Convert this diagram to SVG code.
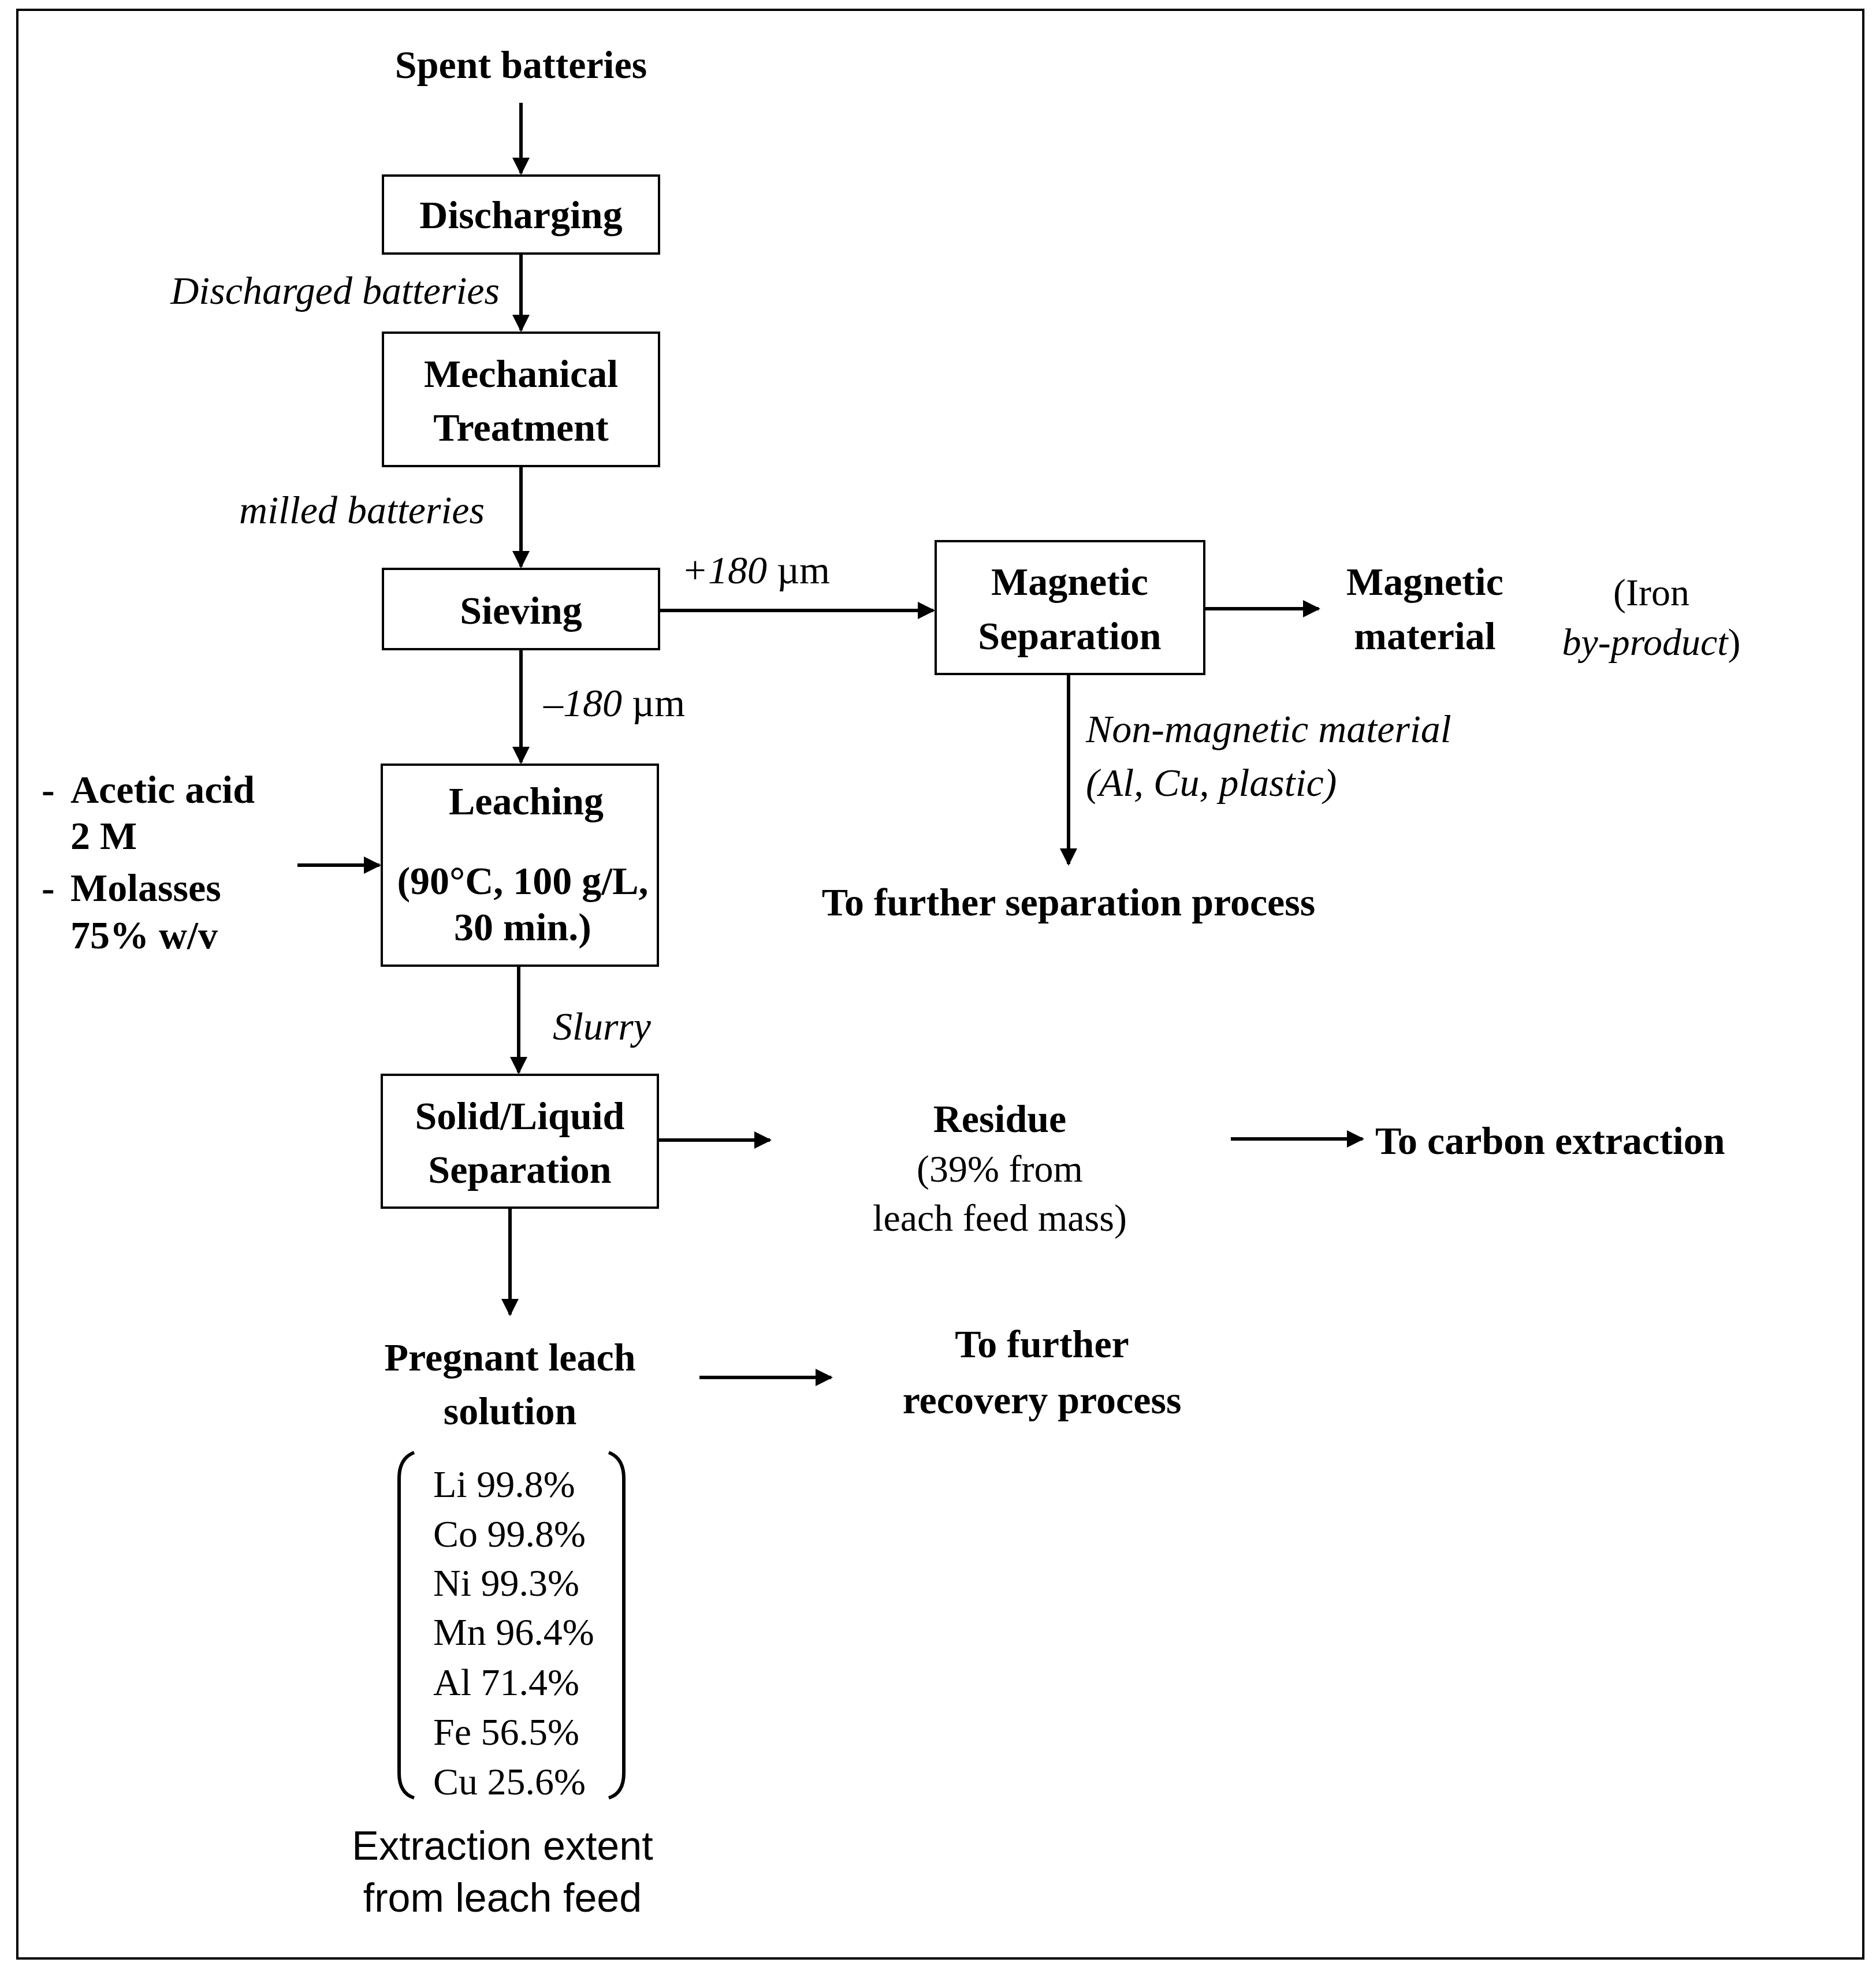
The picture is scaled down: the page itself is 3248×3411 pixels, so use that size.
<svg xmlns="http://www.w3.org/2000/svg" width="3248" height="3411" viewBox="0 0 3248 3411">
<defs>
<marker id="ah" viewBox="0 0 10 10" refX="9" refY="5" markerWidth="5" markerHeight="5" orient="auto" markerUnits="strokeWidth"><path d="M0,0 L10,5 L0,10 z" fill="#000"/></marker>
<style>
.b{font-family:"Liberation Serif",serif;font-weight:bold;font-size:68px;fill:#000}
.i{font-family:"Liberation Serif",serif;font-style:italic;font-size:68px;fill:#000}
.n{font-family:"Liberation Serif",serif;font-size:66px;fill:#000}
.s{font-family:"Liberation Sans",sans-serif;font-size:70px;fill:#000}
.box{fill:#fff;stroke:#000;stroke-width:4}
.c{text-anchor:middle}
.ln{stroke:#000;stroke-width:6;fill:none}
</style>
</defs>
<rect x="30" y="17" width="3196" height="3374" fill="#fff" stroke="#000" stroke-width="4"/>
<g id="connectors">
<line class="ln" x1="902" y1="178" x2="902" y2="300" marker-end="url(#ah)"/>
<line class="ln" x1="902" y1="439" x2="902" y2="572" marker-end="url(#ah)"/>
<line class="ln" x1="902" y1="807" x2="902" y2="981" marker-end="url(#ah)"/>
<line class="ln" x1="1141" y1="1057" x2="1616" y2="1057" marker-end="url(#ah)"/>
<line class="ln" x1="2085" y1="1054" x2="2283" y2="1054" marker-end="url(#ah)"/>
<line class="ln" x1="1850" y1="1167" x2="1850" y2="1496" marker-end="url(#ah)"/>
<line class="ln" x1="902" y1="1124" x2="902" y2="1320" marker-end="url(#ah)"/>
<line class="ln" x1="515" y1="1498" x2="657" y2="1498" marker-end="url(#ah)"/>
<line class="ln" x1="898" y1="1672" x2="898" y2="1857" marker-end="url(#ah)"/>
<line class="ln" x1="1139" y1="1974" x2="1333" y2="1974" marker-end="url(#ah)"/>
<line class="ln" x1="2131" y1="1972" x2="2359" y2="1972" marker-end="url(#ah)"/>
<line class="ln" x1="883" y1="2091" x2="883" y2="2276" marker-end="url(#ah)"/>
<line class="ln" x1="1211" y1="2385" x2="1439" y2="2385" marker-end="url(#ah)"/>
</g>
<g id="spent"><text class="b c" x="902" y="135">Spent batteries</text></g>
<g id="discharging"><rect class="box" x="663" y="304" width="478" height="135"/><text class="b c" x="902" y="395">Discharging</text></g>
<text class="i" x="865" y="526" text-anchor="end">Discharged batteries</text>
<g id="mechanical"><rect class="box" x="663" y="576" width="478" height="231"/><text class="b c" x="902" y="670">Mechanical</text><text class="b c" x="902" y="763">Treatment</text></g>
<text class="i" x="839" y="906" text-anchor="end">milled batteries</text>
<g id="sieving"><rect class="box" x="663" y="985" width="478" height="139"/><text class="b c" x="902" y="1080">Sieving</text></g>
<text class="i" x="1180" y="1010">+180 <tspan style="font-style:normal">µm</tspan></text>
<g id="magsep"><rect class="box" x="1620" y="937" width="465" height="230"/><text class="b c" x="1852" y="1030">Magnetic</text><text class="b c" x="1852" y="1124">Separation</text></g>
<g id="magmat"><text class="b c" x="2467" y="1030">Magnetic</text><text class="b c" x="2467" y="1124">material</text></g>
<g id="iron"><text class="n c" x="2859" y="1048">(Iron</text><text class="n c" x="2859" y="1134"><tspan font-style="italic">by-product</tspan>)</text></g>
<text class="i" x="1880" y="1285">Non-magnetic material</text>
<text class="i" x="1880" y="1378">(Al, Cu, plastic)</text>
<g id="further-sep"><text class="b c" x="1850" y="1585">To further separation process</text></g>
<text class="i" x="941" y="1240">–180 <tspan style="font-style:normal">µm</tspan></text>
<g id="reagents">
<text class="b" x="72" y="1390">-</text><text class="b" x="122" y="1390">Acetic acid</text>
<text class="b" x="122" y="1470">2 M</text>
<text class="b" x="72" y="1560">-</text><text class="b" x="122" y="1560">Molasses</text>
<text class="b" x="122" y="1642">75% w/v</text>
</g>
<g id="leaching"><rect class="box" x="661" y="1324" width="478" height="348"/><text class="b c" x="911" y="1410">Leaching</text><text class="b c" x="905" y="1548">(90°C, 100 g/L,</text><text class="b c" x="905" y="1628">30 min.)</text></g>
<text class="i" x="957" y="1800">Slurry</text>
<g id="slsep"><rect class="box" x="661" y="1861" width="478" height="230"/><text class="b c" x="900" y="1955">Solid/Liquid</text><text class="b c" x="900" y="2048">Separation</text></g>
<g id="residue"><text class="b c" x="1731" y="1960">Residue</text><text class="n c" x="1731" y="2046">(39% from</text><text class="n c" x="1731" y="2131">leach feed mass)</text></g>
<g id="carbon"><text class="b" x="2381" y="1998">To carbon extraction</text></g>
<g id="pls"><text class="b c" x="883" y="2373">Pregnant leach</text><text class="b c" x="883" y="2466">solution</text></g>
<g id="recovery"><text class="b c" x="1804" y="2350">To further</text><text class="b c" x="1804" y="2447">recovery process</text></g>
<g id="extraction">
<path class="ln" d="M717,2515 Q691,2525 691,2560 L691,3070 Q691,3105 717,3113"/>
<path class="ln" d="M1054,2515 Q1080,2525 1080,2560 L1080,3070 Q1080,3105 1054,3113"/>
<text class="n" x="750" y="2592">Li 99.8%</text>
<text class="n" x="750" y="2678">Co 99.8%</text>
<text class="n" x="750" y="2763">Ni 99.3%</text>
<text class="n" x="750" y="2848">Mn 96.4%</text>
<text class="n" x="750" y="2935">Al 71.4%</text>
<text class="n" x="750" y="3021">Fe 56.5%</text>
<text class="n" x="750" y="3107">Cu 25.6%</text>
<text class="s c" x="870" y="3220">Extraction extent</text>
<text class="s c" x="870" y="3310">from leach feed</text>
</g>
</svg>
